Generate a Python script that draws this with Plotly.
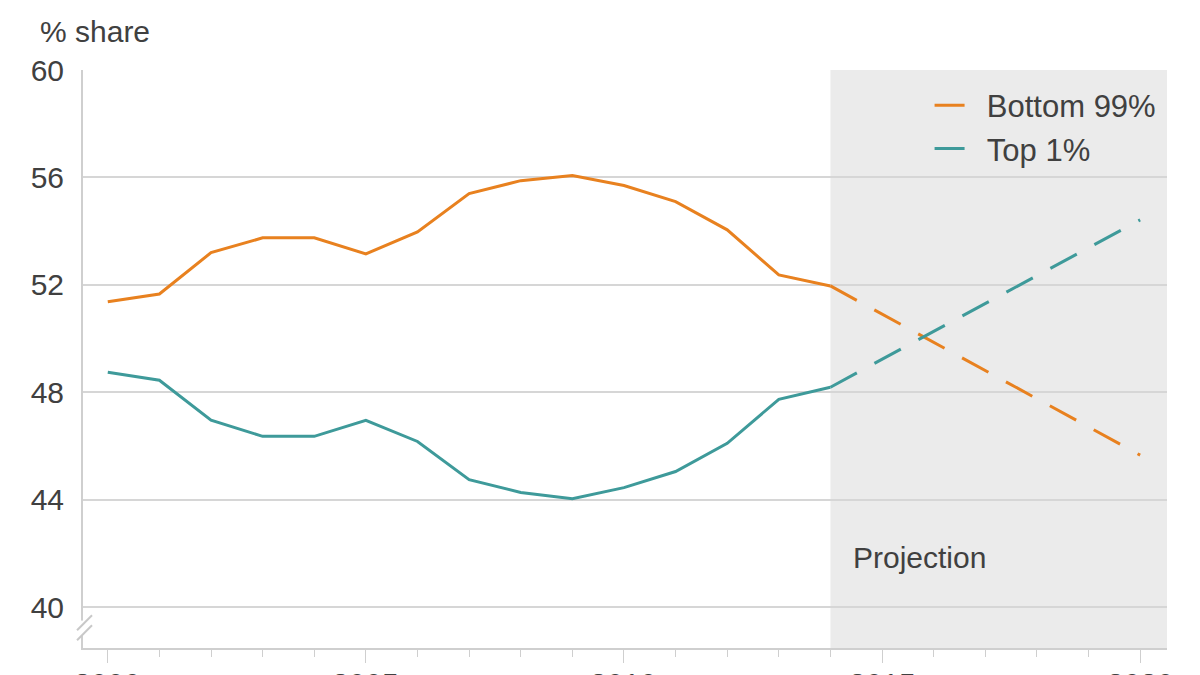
import plotly.graph_objects as go

# yearly data
years = list(range(2000, 2015))
bottom99 = [51.37, 51.66, 53.2, 53.75, 53.75, 53.15, 53.97, 55.4, 55.88, 56.07,
            55.7, 55.1, 54.05, 52.37, 51.96]
top1 = [48.75, 48.45, 46.96, 46.36, 46.36, 46.96, 46.17, 44.75, 44.27, 44.04,
        44.45, 45.05, 46.1, 47.74, 48.19]

# projection endpoints
proj_years = [2014, 2020]
bottom99_proj = [51.96, 45.66]
top1_proj = [48.19, 54.42]

tick_years = [2000, 2005, 2010, 2015, 2020]
y_ticks = [40, 44, 48, 52, 56, 60]

ORANGE = "#e8811f"
TEAL = "#3e9a9a"
TXT = "#404040"
FONT = "Liberation Sans, Arial, sans-serif"
PAD = "\u00a0\u00a0"  # widen gap between legend swatch and text

fig = go.Figure()
fig.add_trace(go.Scatter(x=years, y=bottom99, mode="lines", name=PAD + "Bottom 99%",
                         line=dict(color=ORANGE, width=3)))
fig.add_trace(go.Scatter(x=years, y=top1, mode="lines", name=PAD + "Top 1%",
                         line=dict(color=TEAL, width=3)))
fig.add_trace(go.Scatter(x=proj_years, y=bottom99_proj, mode="lines", showlegend=False,
                         line=dict(color=ORANGE, width=3, dash="30px,20px")))
fig.add_trace(go.Scatter(x=proj_years, y=top1_proj, mode="lines", showlegend=False,
                         line=dict(color=TEAL, width=3, dash="30px,20px")))

# projection shading
fig.add_shape(type="rect", xref="x", yref="paper", x0=2014, x1=2020.52, y0=0, y1=1,
              fillcolor="#ebebeb", line=dict(width=0), layer="below")

# axis break marks
fig.add_shape(type="line", xref="paper", yref="y", x0=0, x1=0, y0=38.95, y1=39.5,
              line=dict(color="white", width=4))
for dy in [0, -0.37]:
    fig.add_shape(type="line", xref="paper", yref="y", x0=-0.0055, x1=0.0083,
                  y0=39.14 + dy, y1=39.7 + dy, line=dict(color="#c8c8c8", width=2))

fig.add_annotation(text="% share", xref="paper", yref="paper", x=-0.0415, y=1.066,
                   xanchor="left", yanchor="middle", showarrow=False,
                   font=dict(size=30, color=TXT, family=FONT))
fig.add_annotation(text="Projection", xref="x", yref="y", x=2014.4, y=41.86,
                   xanchor="left", yanchor="middle", showarrow=False,
                   font=dict(size=30, color=TXT, family=FONT))

# year labels sit partly below the bottom edge, as in the original
for yr in tick_years:
    fig.add_annotation(text=str(yr), xref="x", yref="paper", x=yr, y=-0.0294,
                       xanchor="center", yanchor="top", showarrow=False,
                       font=dict(size=30, color=TXT, family=FONT))

# page body has an 8px margin, so margins are shifted to line up on screen
fig.update_layout(
    width=1200, height=675,
    margin=dict(l=75, r=41, t=62, b=35),
    paper_bgcolor="white", plot_bgcolor="white",
    font=dict(family=FONT, size=30, color=TXT),
    legend=dict(x=0.995, y=0.985, xanchor="right", yanchor="top",
                bgcolor="rgba(0,0,0,0)", font=dict(size=31, color=TXT),
                itemwidth=30, tracegroupgap=0),
)
fig.update_xaxes(range=[1999.52, 2020.52], tickmode="array", tickvals=tick_years,
                 ticks="outside", ticklen=13, tickcolor="#cfcfcf", tickwidth=1,
                 minor=dict(dtick=1, tick0=2000, ticks="outside", ticklen=7,
                            tickcolor="#cfcfcf", showgrid=False),
                 showgrid=False, showline=True, linecolor="#cfcfcf", linewidth=2,
                 zeroline=False, automargin=False, showticklabels=False)
fig.update_yaxes(range=[38.48, 60], tickvals=y_ticks,
                 showgrid=True, gridcolor="#d6d6d6", gridwidth=1.5,
                 showline=True, linecolor="#cfcfcf", linewidth=2,
                 zeroline=False, ticks="", ticklabelstandoff=11, automargin=False)

fig.write_html("out.html")
